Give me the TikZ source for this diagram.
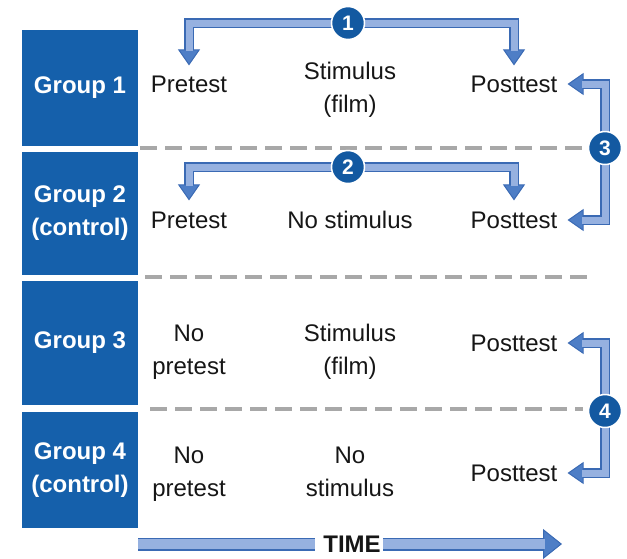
\documentclass[tikz,border=0pt]{standalone}
\usepackage{fontspec}
\setmainfont{Liberation Sans}
\usetikzlibrary{arrows.meta}
\definecolor{boxblue}{RGB}{21,96,171}
\definecolor{circblue}{RGB}{19,89,161}
\definecolor{bandedge}{RGB}{58,106,180}
\definecolor{bandfill}{RGB}{150,177,224}
\definecolor{bandhead}{RGB}{78,126,198}
\definecolor{sepgray}{RGB}{168,168,168}
\definecolor{txt}{RGB}{22,22,22}

\begin{document}
\begin{tikzpicture}[x=1pt,y=-1pt]
	\tikzstyle{grp}=[fill=boxblue, minimum width=116pt, inner sep=0pt, text=white, font=\bfseries\fontsize{24}{33}\selectfont, align=center]
	\tikzstyle{lbl}=[inner sep=0pt, text=txt, font=\fontsize{24}{33}\selectfont, align=center]
	\tikzstyle{num}=[circle, fill=circblue, draw=white, line width=1.5pt, minimum size=33pt, inner sep=0pt, text=white, font=\bfseries\fontsize{21}{21}\selectfont]
	\tikzstyle{sep}=[sepgray, line width=3.5pt, dash pattern=on 17pt off 8pt]
	\tikzset{band/.style={line width=10pt, draw=bandedge, shorten >=#1, -{Triangle[width=22pt,length=16pt,line width=1pt,fill=bandhead]}, postaction={draw=bandfill, line width=7pt, -, shorten >=#1+14.5pt}}}
	\tikzset{tbar/.style={line width=13pt, draw=bandedge, postaction={draw=bandfill, line width=10pt}}}
	\tikzset{tarrow/.style={line width=13pt, draw=bandedge, -{Triangle[width=30pt,length=19pt,line width=1pt,fill=bandhead]}, postaction={draw=bandfill, line width=10pt, -, shorten >=17.5pt}}}

	\useasboundingbox (0,0) rectangle (627,558);

	% groups
	\node[grp, minimum height=116pt] (g1) at (80,88) {Group 1};
	\node[grp, minimum height=123pt] (g2) at (80,213.5) {Group 2\\(control)};
	\node[grp, minimum height=124pt] (g3) at (80,343) {Group 3};
	\node[grp, minimum height=116pt] (g4) at (80,470) {Group 4\\(control)};

	% separators
	\draw[sep] (140,148) -- (583,148);
	\draw[sep] (145,277) -- (590,277);
	\draw[sep] (150,409) -- (583,409);

	% rows
	\node[lbl] (pre1) at (189,84) {Pretest};
	\node[lbl] (stim1) at (350,90) {Stimulus\\(film)};
	\node[lbl] (post1) at (514,84) {Posttest};
	\node[lbl] (pre2) at (189,220) {Pretest};
	\node[lbl] (stim2) at (350,220) {No stimulus};
	\node[lbl] (post2) at (514,220) {Posttest};
	\node[lbl] (pre3) at (189,352) {No\\pretest};
	\node[lbl] (stim3) at (350,352) {Stimulus\\(film)};
	\node[lbl] (post3) at (514,343) {Posttest};
	\node[lbl] (pre4) at (189,474) {No\\pretest};
	\node[lbl] (stim4) at (350,472) {No\\stimulus};
	\node[lbl] (post4) at (514,473) {Posttest};

	% comparisons
	\coordinate (c1) at (348,23);
	\coordinate (c2) at (348,167);
	\coordinate (c3) at (605,148);
	\coordinate (c4) at (605,411);
	\draw[band=10pt] (c1) -| (pre1.north);
	\draw[band=10pt] (c1) -| (post1.north);
	\draw[band=11pt] (c2) -| (pre2.north);
	\draw[band=11pt] (c2) -| (post2.north);
	\draw[band=10pt] (c3) |- (post1.east);
	\draw[band=10pt] (c3) |- (post2.east);
	\draw[band=10pt] (c4) |- (post3.east);
	\draw[band=10pt] (c4) |- (post4.east);
	\node[num] (n1) at (c1) {1};
	\node[num] (n2) at (c2) {2};
	\node[num] (n3) at (c3) {3};
	\node[num] (n4) at (c4) {4};

	% time
	\node[lbl, font=\bfseries\fontsize{24}{24}\selectfont] (time) at (352,544) {TIME};
	\coordinate (t0) at (138,544);
	\coordinate (t1) at (562,544);
	\draw[tbar, shorten >=8pt] (t0) -- (time.west);
	\draw[tarrow, shorten <=2pt] (time.east) -- (t1);
\end{tikzpicture}
\end{document}
